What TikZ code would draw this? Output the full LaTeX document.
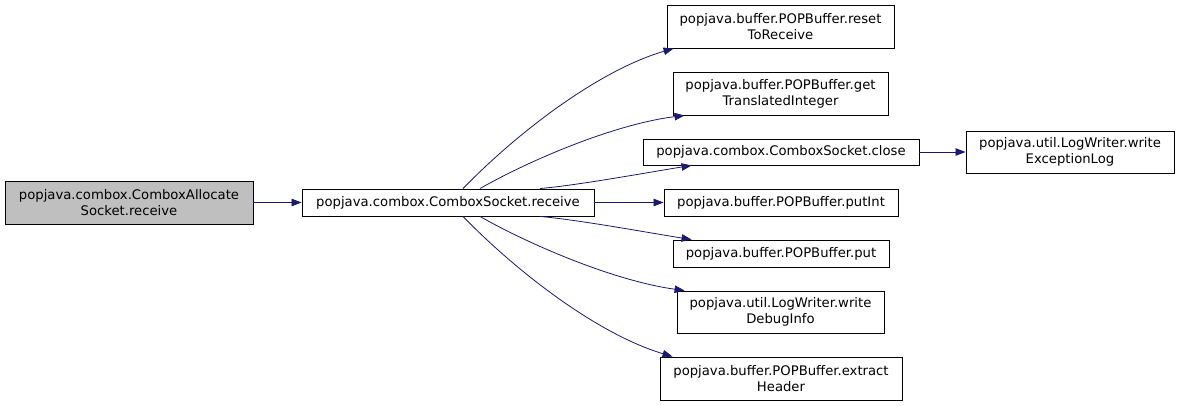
\documentclass[tikz,border=0pt]{standalone}
\usepackage{fontspec}
\setmainfont{DejaVu Sans}
\usetikzlibrary{arrows.meta}
\definecolor{edgeblue}{RGB}{25,25,112}
\definecolor{nodegray}{RGB}{191,191,191}
\begin{document}
\begin{tikzpicture}[x=1pt,y=-1pt,
  box/.style={draw=black, line width=0.9pt, fill=white, inner sep=0pt, align=center,
    font=\fontsize{13.2pt}{16pt}\selectfont},
  edge/.style={draw=edgeblue, line width=0.8pt, -{Triangle[length=10pt,width=7.5pt]}}]
\useasboundingbox (0,0) rectangle (1181,405);
\node[box, fill=nodegray, minimum width=248pt, minimum height=43pt] (A) at (129,202.5) {popjava.combox.ComboxAllocate\\Socket.receive};
\node[box, minimum width=292pt, minimum height=27pt] (B) at (448,202.5) {popjava.combox.ComboxSocket.receive};
\node[box, minimum width=227pt, minimum height=43pt] (reset) at (780.5,26.5) {popjava.buffer.POPBuffer.reset\\ToReceive};
\node[box, minimum width=215pt, minimum height=43pt] (get) at (780.5,93.5) {popjava.buffer.POPBuffer.get\\TranslatedInteger};
\node[box, minimum width=276pt, minimum height=26pt] (close) at (781,152) {popjava.combox.ComboxSocket.close};
\node[box, minimum width=208pt, minimum height=42pt] (exc) at (1070,152) {popjava.util.LogWriter.write\\ExceptionLog};
\node[box, minimum width=234pt, minimum height=27pt] (putint) at (781,202.5) {popjava.buffer.POPBuffer.putInt};
\node[box, minimum width=216pt, minimum height=27pt] (put) at (781,253.5) {popjava.buffer.POPBuffer.put};
\node[box, minimum width=207pt, minimum height=42pt] (debug) at (780.5,312) {popjava.util.LogWriter.write\\DebugInfo};
\node[box, minimum width=242pt, minimum height=43pt] (extract) at (781,378.5) {popjava.buffer.POPBuffer.extract\\Header};

\draw[edge] (A.east) -- (B.west);
\draw[edge] ([xshift=15pt]B.north) .. controls (520,130) and (600,70) .. ([xshift=7pt]reset.south west);
\draw[edge] ([xshift=32pt]B.north) .. controls (530,160) and (615,124) .. ([xshift=12pt]get.south west);
\draw[edge] ([xshift=92pt]B.north) .. controls (580,185) and (650,172) .. ([xshift=49pt]close.south west);
\draw[edge] (B.east) -- (putint.west);
\draw[edge] ([xshift=92pt]B.south) .. controls (580,220) and (650,233) .. ([xshift=19pt]put.north west);
\draw[edge] ([xshift=32pt]B.south) .. controls (530,245) and (615,281) .. ([xshift=8pt]debug.north west);
\draw[edge] ([xshift=15pt]B.south) .. controls (520,275) and (600,335) .. ([xshift=13pt]extract.north west);
\draw[edge] (close.east) -- (exc.west);
\end{tikzpicture}
\end{document}
